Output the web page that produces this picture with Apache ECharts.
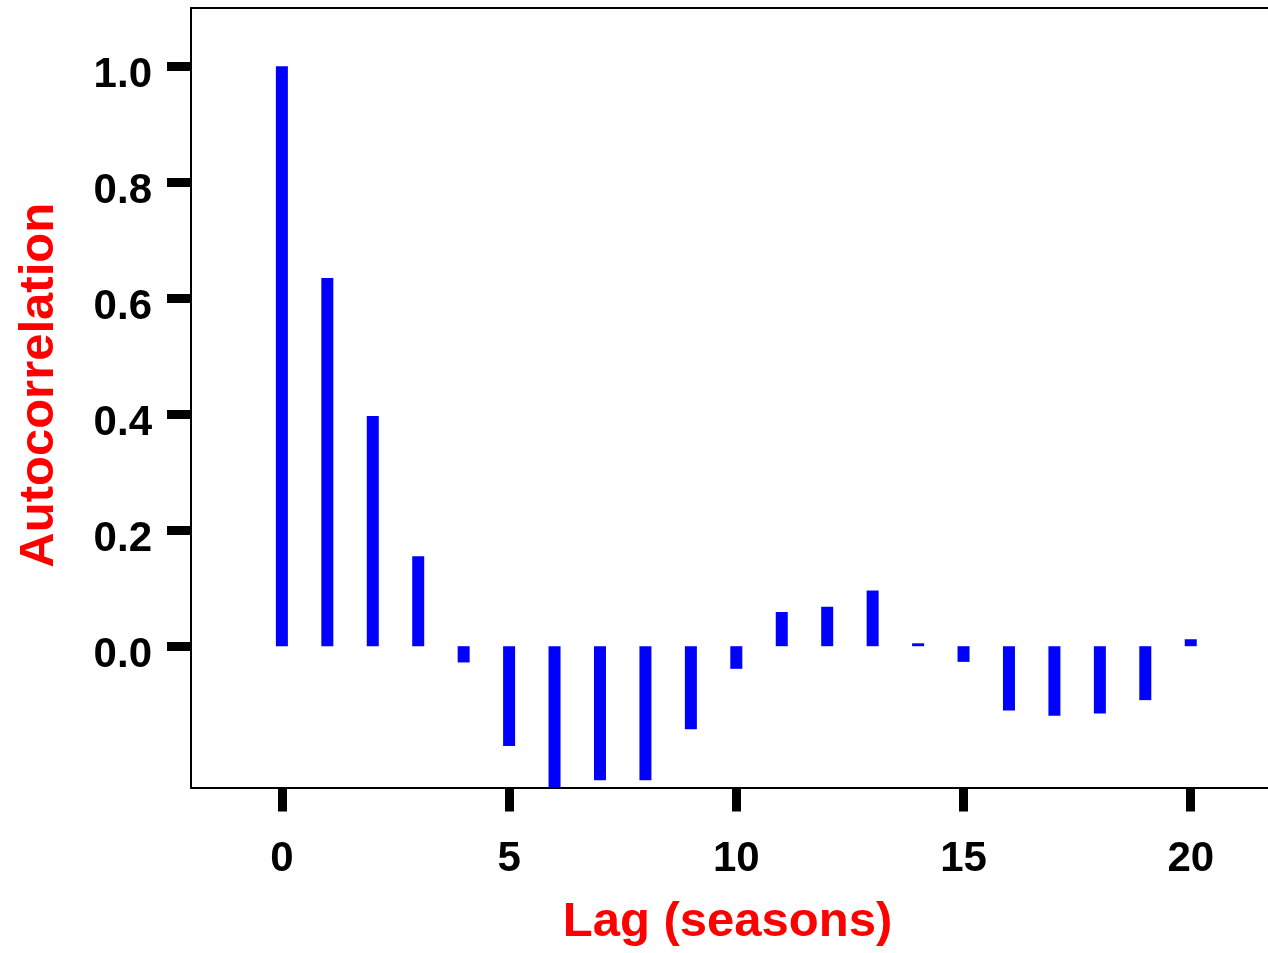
<!DOCTYPE html>
<html>
<head>
<meta charset="utf-8">
<script src="https://cdn.jsdelivr.net/npm/echarts@6/dist/echarts.min.js"></script>
<style>
  html, body { margin: 0; padding: 0; background: #fff; }
  #chart { width: 1268px; height: 953px; }
</style>
</head>
<body>
<div id="chart"></div>
<script>
// autocorrelation by lag
const lags = [0, 1, 2, 3, 4, 5, 6, 7, 8, 9, 10, 11, 12, 13, 14, 15, 16, 17, 18, 19, 20];
const acf = [1.0, 0.635, 0.397, 0.155, -0.028, -0.172, -0.25, -0.231, -0.231, -0.143, -0.039,
             0.059, 0.068, 0.096, 0.005, -0.027, -0.111, -0.120, -0.116, -0.093, 0.012];
const xTicks = [0, 5, 10, 15, 20];
const yTicks = [0, 0.2, 0.4, 0.6, 0.8, 1.0];

const font = '"Liberation Sans", Arial, sans-serif';
const chart = echarts.init(document.getElementById('chart'));

const tickStyle = { color: '#000', width: 9 };
const lineStyle = { color: '#000', width: 2 };
const labelText = {
    fontSize: 42,
    fontWeight: 'bold',
    fontFamily: font,
    color: '#000'
};

chart.setOption({
    animation: false,
    backgroundColor: '#fff',
    grid: { left: 191, top: 8, right: 0, bottom: 165.5 },
    xAxis: [{
        type: 'value',
        position: 'bottom',
        min: -2,
        max: 21.7,
        splitLine: { show: false },
        axisLine: { onZero: false, lineStyle: lineStyle },
        axisTick: { customValues: xTicks, length: 24, lineStyle: tickStyle },
        axisLabel: Object.assign({ customValues: xTicks, margin: 51 }, labelText),
        name: 'Lag (seasons)',
        nameLocation: 'middle',
        nameGap: 110,
        nameTextStyle: {
            fontSize: 49,
            fontWeight: 'bold',
            fontFamily: font,
            color: '#ff0000',
            padding: [0, 4, 0, 0]
        }
    }, {
        type: 'value',
        position: 'top',
        min: -2,
        max: 21.7,
        splitLine: { show: false },
        axisLine: { onZero: false, lineStyle: lineStyle },
        axisTick: { show: false },
        axisLabel: { show: false }
    }],
    yAxis: {
        type: 'value',
        min: -0.2436,
        max: 1.1003,
        splitLine: { show: false },
        axisLine: { show: true, onZero: false, lineStyle: lineStyle },
        axisTick: { show: true, customValues: yTicks, length: 24, lineStyle: tickStyle },
        axisLabel: {
            customValues: yTicks,
            formatter: v => '{t|' + v.toFixed(1) + '}',
            margin: 39,
            rich: { t: Object.assign({ padding: [18, 0, 0, 0] }, labelText) }
        },
        name: 'Autocorrelation',
        nameLocation: 'middle',
        nameGap: 127,
        nameRotate: 90,
        nameTextStyle: {
            fontSize: 49,
            fontWeight: 'bold',
            fontFamily: font,
            color: '#ff0000',
            padding: [0, 0, 0, 25]
        }
    },
    series: [{
        type: 'bar',
        xAxisIndex: 0,
        barWidth: 12,
        clip: true,
        itemStyle: { color: '#0000ff' },
        data: lags.map((l, i) => [l, acf[i]])
    }]
});
</script>
</body>
</html>
